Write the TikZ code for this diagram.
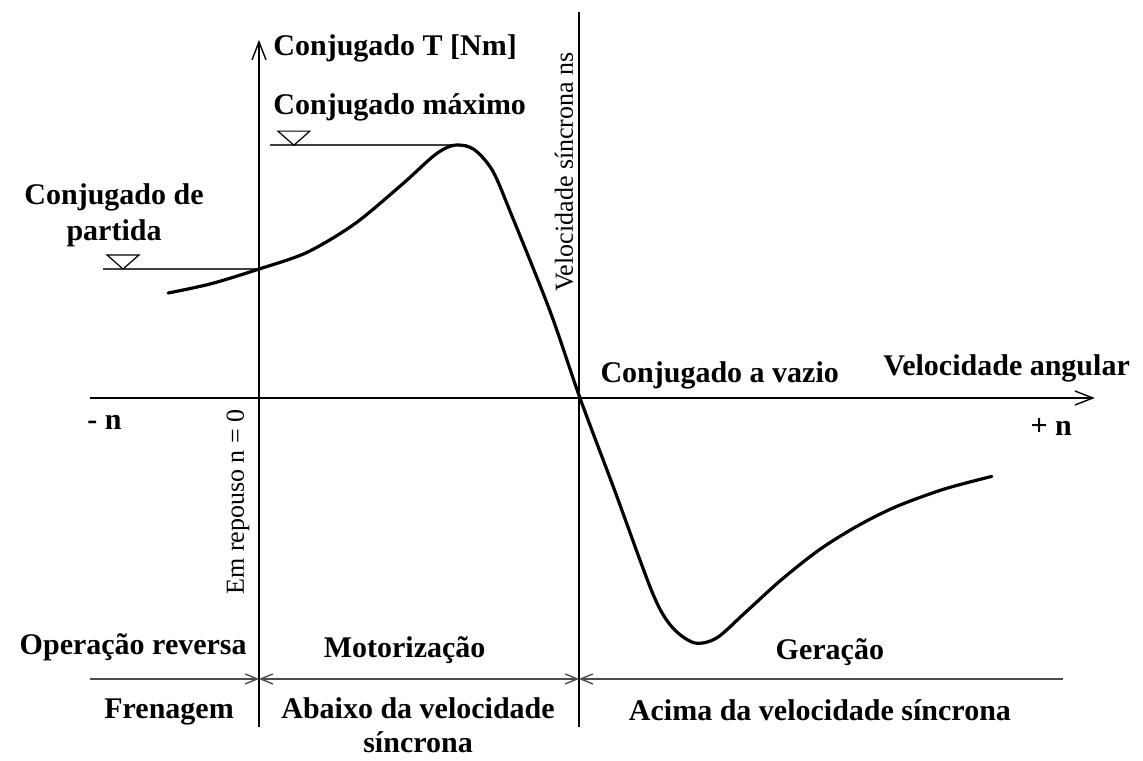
\documentclass[tikz,border=0pt]{standalone}
\usepackage{fontspec}
\setmainfont{Liberation Serif}
\usetikzlibrary{arrows.meta}

\begin{document}
\begin{tikzpicture}[x=16pt, y=16pt, smooth,
  lbl/.style={font=\fontsize{15}{17}\selectfont\bfseries, inner sep=0pt},
  vlbl/.style={font=\fontsize{13}{15}\selectfont, inner sep=0pt, rotate=90},
  barb/.style={-{Straight Barb[length=9pt,width=7pt]}},
  dimtip/.tip={Straight Barb[length=6pt,width=5pt]}]

\useasboundingbox (-8.094,-11.344) rectangle (27.625,12.4375);

\begin{scope}[line width=0.7pt]
\coordinate (O) at (0,0);
\coordinate (nmin) at (-5.28,0);
\coordinate (nmax) at (26.12,0);
\coordinate (Tbot) at (0,-10.28);
\coordinate (Ttop) at (0,11.19);
\coordinate (sbot) at (10,-10.28);
\coordinate (stop) at (10,12.06);
\draw[barb] (nmin) -- (nmax);
\draw[barb] (Tbot) -- (Ttop);
\draw (sbot) -- (stop);
\end{scope}

% faixas de operacao
\begin{scope}[line width=0.7pt, gray!60!black]
\coordinate (b0) at (-5.28,-8.78);
\coordinate (b1) at (0,-8.78);
\coordinate (b2) at (10,-8.78);
\coordinate (b3) at (25.12,-8.78);
\draw[-{dimtip}] (b0) -- (b1);
\draw[{dimtip}-{dimtip}] (b1) -- (b2);
\draw[{dimtip}-] (b2) -- (b3);
\end{scope}

\begin{scope}[line width=0.9pt, gray!50!black]
\draw (0.34,7.9) -- (6.5,7.9);
\draw (-4.875,4.03) -- (0,4.03);
\end{scope}

\foreach \x/\y in {1.09/7.9, -4.25/4.03}
\draw[line width=0.6pt] (\x,\y) -- ++(-0.5,0.44) -- ++(1,0) -- cycle;

\draw[line width=1.6pt, line cap=round] plot coordinates {(-2.84,3.28) (-1.5,3.57) (0,4.03) (1.5,4.55) (3,5.45) (4.5,6.7) (5.5,7.6) (6.1,7.9) (6.7,7.78) (7.3,7.1) (7.9,5.7) (9.1,2.7) (10.03,0) (11.1,-2.85) (12.3,-6.1) (12.9,-7.15) (13.6,-7.65) (14.3,-7.5) (15.2,-6.7) (16.3,-5.7) (17.5,-4.75) (18.7,-4.0) (19.9,-3.4) (21.4,-2.85) (22.9,-2.45)};

\node[lbl, anchor=west] (Tlbl) at (0.44,10.94) {Conjugado T [Nm]};
\node[lbl, anchor=west] (Tmax) at (0.44,9.09) {Conjugado máximo};
\node[lbl, align=center] (Tpart) at (-4.53,5.72) {Conjugado de\\[1pt]partida};
\node[lbl, anchor=west] (Tvaz) at (10.66,0.72) {Conjugado a vazio};
\node[lbl, anchor=west] (wlbl) at (19.5,0.94) {Velocidade angular};
\node[lbl, anchor=west] (nneg) at (-5.375,-0.75) {- n};
\node[lbl, anchor=west] (npos) at (24.1,-0.9) {+ n};
\node[vlbl] (repouso) at (-0.66,-3.25) {Em repouso n = 0};
\node[vlbl] (nsinc) at (9.53,7.06) {Velocidade síncrona ns};

\node[lbl, anchor=east] (rev) at (-0.375,-7.78) {Operação reversa};
\node[lbl] (mot) at (4.55,-7.88) {Motorização};
\node[lbl] (ger) at (17.84,-7.94) {Geração};
\node[lbl] (fren) at (-2.81,-9.81) {Frenagem};
\node[lbl, align=center] (abaixo) at (4.97,-10.22) {Abaixo da velocidade\\síncrona};
\node[lbl] (acima) at (17.53,-9.75) {Acima da velocidade síncrona};

\end{tikzpicture}
\end{document}
